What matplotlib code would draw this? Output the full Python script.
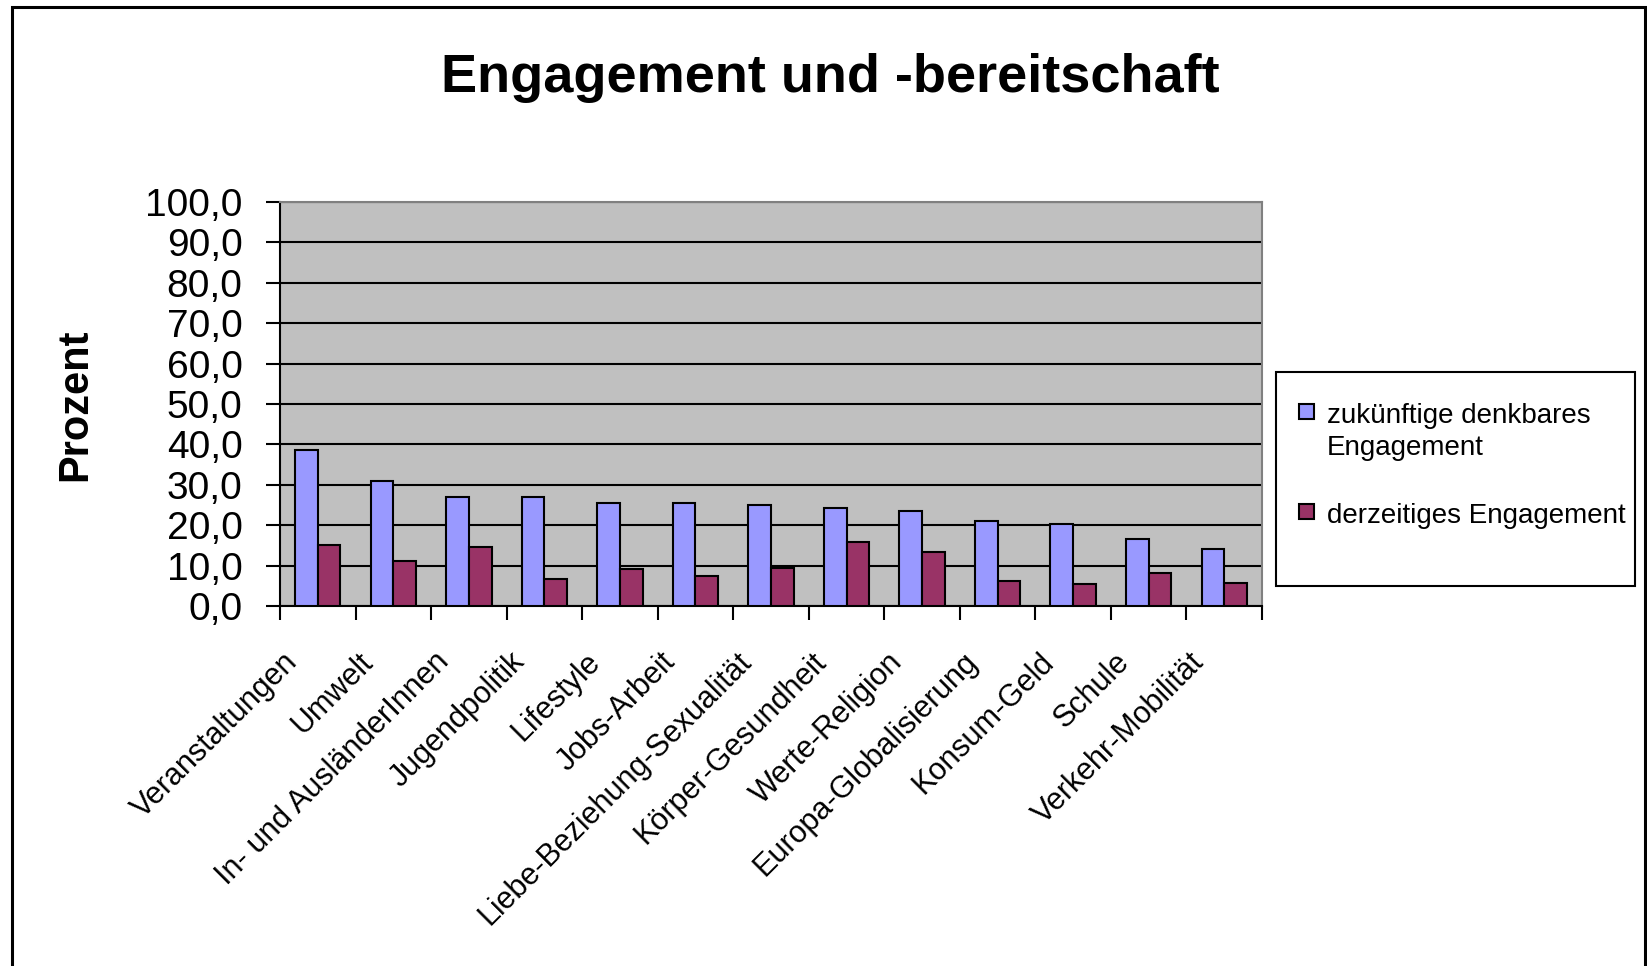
import matplotlib
matplotlib.use("Agg")
import numpy as np
import matplotlib.pyplot as plt
from matplotlib.patches import Rectangle

plt.rcParams['font.family'] = ['Liberation Sans', 'DejaVu Sans']

categories = ["Veranstaltungen", "Umwelt", "In- und AusländerInnen", "Jugendpolitik",
              "Lifestyle", "Jobs-Arbeit", "Liebe-Beziehung-Sexualität", "Körper-Gesundheit",
              "Werte-Religion", "Europa-Globalisierung", "Konsum-Geld", "Schule",
              "Verkehr-Mobilität"]
zukuenftig = [38.6, 30.9, 26.9, 26.9, 25.6, 25.6, 24.9, 24.3, 23.6, 21.1, 20.4, 16.6, 14.0]
derzeitig = [15.2, 11.2, 14.6, 6.7, 9.2, 7.4, 9.3, 15.8, 13.3, 6.1, 5.4, 8.1, 5.6]
yticks = [0, 10, 20, 30, 40, 50, 60, 70, 80, 90, 100]
ylabels = ["0,0", "10,0", "20,0", "30,0", "40,0", "50,0", "60,0", "70,0", "80,0", "90,0", "100,0"]
legend_labels = ["zukünftige denkbares\nEngagement", "derzeitiges Engagement"]

W, H = 1647, 966
fig = plt.figure(figsize=(W / 100, H / 100), dpi=100)
ax = fig.add_axes([280 / W, 1 - 606 / H, (1262 - 280) / W, (606 - 202) / H])

x = np.arange(len(categories))
w = 0.3
ax.bar(x - w / 2, zukuenftig, w, color='#9999FF', edgecolor='black', linewidth=1.5, zorder=3)
ax.bar(x + w / 2, derzeitig, w, color='#993366', edgecolor='black', linewidth=1.5, zorder=3)

ax.set_facecolor('#C0C0C0')
ax.set_xlim(-0.5, len(categories) - 0.5)
ax.set_ylim(0, 100)
ax.set_yticks(yticks)
ax.set_yticklabels(ylabels, fontsize=28)
ax.yaxis.grid(True, color='black', linewidth=1.5)
ax.set_axisbelow(True)

# labels sit a bit left of the category centre, like in Excel
ax.set_xticks(x - 0.32)
ax.set_xticklabels(categories, fontsize=22, rotation=45, ha='right', va='center',
                   rotation_mode='anchor')
ax.set_xticks(np.arange(len(categories) + 1) - 0.5, minor=True)
ax.tick_params(axis='x', which='major', length=0, pad=37)
ax.tick_params(axis='x', which='minor', length=10, width=1.5, direction='out')
ax.tick_params(axis='y', length=10, width=1.5, direction='out', pad=17)

for s in ['left', 'bottom']:
    ax.spines[s].set_color('black')
    ax.spines[s].set_linewidth(1.5)
for s in ['top', 'right']:
    ax.spines[s].set_color('#808080')
    ax.spines[s].set_linewidth(1.5)

fig.text(830 / W, 1 - 78 / H, "Engagement und -bereitschaft", fontsize=39,
         fontweight='bold', ha='center', va='center')
fig.text(75 / W, 1 - 405 / H, "Prozent", fontsize=30, fontweight='bold',
         rotation=90, ha='center', va='center')

# legend box
fig.patches.append(Rectangle((1276 / W, 1 - 586 / H), (1635 - 1276) / W, (586 - 372) / H,
                             transform=fig.transFigure, facecolor='white',
                             edgecolor='black', linewidth=1.5))
fig.patches.append(Rectangle((1299 / W, 1 - 419 / H), 15 / W, 15 / H,
                             transform=fig.transFigure, facecolor='#9999FF',
                             edgecolor='black', linewidth=1.5))
fig.patches.append(Rectangle((1299 / W, 1 - 519 / H), 15 / W, 15 / H,
                             transform=fig.transFigure, facecolor='#993366',
                             edgecolor='black', linewidth=1.5))
line1, line2 = legend_labels[0].split("\n")
fig.text(1327 / W, 1 - 423 / H, line1, fontsize=20, ha='left', va='baseline')
fig.text(1327 / W, 1 - 455 / H, line2, fontsize=20, ha='left', va='baseline')
fig.text(1327 / W, 1 - 523 / H, legend_labels[1], fontsize=20, ha='left', va='baseline')

# outer chart frame
fig.patches.append(Rectangle((12 / W, -0.05), (1645 - 12) / W, 1 - 7 / H + 0.05,
                             transform=fig.transFigure, facecolor='none',
                             edgecolor='black', linewidth=2.2))

fig.savefig("out.png", dpi=100)
